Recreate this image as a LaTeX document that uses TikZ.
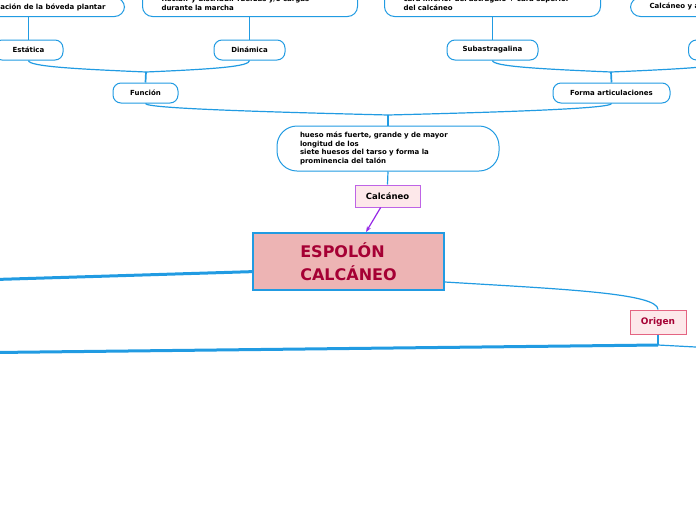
\documentclass[tikz,border=0pt]{standalone}
\usepackage{fontspec}
\setmainfont{DejaVu Sans}
\usetikzlibrary{arrows.meta,positioning}
\definecolor{mmblue}{RGB}{33,155,226}
\definecolor{titlered}{RGB}{165,0,52}
\definecolor{mainfill}{RGB}{237,180,180}
\definecolor{tagline}{RGB}{190,100,230}
\definecolor{tagarrow}{RGB}{150,40,230}
\definecolor{palepink}{RGB}{253,232,234}
\definecolor{roseline}{RGB}{228,100,130}
\tikzset{
  leaf/.style   = {draw=mmblue, line width=1pt, fill=white, rounded corners=10pt,
                   inner xsep=19pt, inner ysep=6pt, align=left,
                   font=\fontsize{7}{9}\selectfont\bfseries},
  pill/.style   = {draw=mmblue, line width=1pt, fill=white, rounded corners=8pt,
                   minimum height=20pt, inner sep=0pt,
                   font=\fontsize{7}{9}\selectfont\bfseries},
  blurb/.style  = {draw=mmblue, line width=1pt, fill=white, rounded corners=20pt,
                   minimum width=222pt, minimum height=45pt, inner xsep=23pt,
                   text width=176pt, align=left,
                   font=\fontsize{7}{8.7}\selectfont\bfseries},
  tagbox/.style = {draw=tagline, line width=1pt, fill=palepink, minimum width=65pt,
                   minimum height=22pt, inner sep=0pt,
                   font=\fontsize{8.5}{10}\selectfont\bfseries},
  topic/.style  = {draw=mmblue, line width=2pt, fill=mainfill, minimum width=191pt,
                   minimum height=57pt, inner sep=0pt, align=left, text=titlered,
                   font=\fontsize{16}{23}\selectfont\bfseries},
  rootbox/.style= {draw=roseline, line width=1pt, fill=palepink, minimum width=56pt,
                   minimum height=24pt, inner sep=0pt, text=titlered,
                   font=\fontsize{9}{11}\selectfont\bfseries},
  link/.style   = {draw=mmblue, line width=1.2pt},
  stem/.style   = {draw=mmblue, line width=1.7pt},
  trunk/.style  = {draw=mmblue, line width=3pt},
  pointer/.style= {draw=tagarrow, line width=1.2pt, -{Stealth[length=2mm]}},
}

\begin{document}
\begin{tikzpicture}[x=1pt,y=-1pt]
  \useasboundingbox (0,0) rectangle (696,520);

  % top row, cut by the page edge
  \node[leaf, anchor=south east] (plantar) at (125,17) {Formación de la bóveda plantar};
  \node[leaf, anchor=south west, text width=177pt] (cargas) at (142,17)
    {Recibir y distribuir fuerzas y/o cargas\\durante la marcha};
  \node[leaf, anchor=south west, text width=178pt] (caras) at (384,17)
    {cara inferior del astrágalo + cara superior\\del calcáneo};
  \node[leaf, anchor=south west] (huesos) at (630,17) {Calcáneo y astrágalo};

  % second row
  \node[pill, minimum width=69pt] (estatica) at (28.5,50) {Estática};
  \node[pill, minimum width=71pt] (dinamica) at (249.5,50) {Dinámica};
  \node[pill, minimum width=91pt] (subastra) at (492.5,50) {Subastragalina};
  \node[pill, minimum width=84pt, anchor=west] (otra) at (688,50) {};

  \node[pill, minimum width=65pt] (funcion) at (145.5,93) {Función};
  \node[pill, minimum width=117pt] (forma) at (611.5,93) {Forma articulaciones};

  \node[blurb] (hueso) at (388,148.5)
    {hueso más fuerte, grande y de mayor\\longitud de los\\siete huesos del tarso y forma la\\prominencia del talón};
  \node[tagbox] (calcaneo) at (387.5,196) {Calcáneo};
  \node[topic] (espolon) at (348.5,261.5) {ESPOLÓN\\CALCÁNEO};
  \node[rootbox] (origen) at (658,322) {Origen};

  \coordinate (jf) at (146,72);
  \coordinate (ja) at (611,72);
  \coordinate (jh) at (388,115);
  \coordinate (jo) at (658,345);
  \coordinate (endA) at (-5,279.5);
  \coordinate (endB) at (-5,352.5);
  \coordinate (endC) at (705,347.5);

  % leaves
  \draw[link] (estatica.north) -- (estatica.north |- plantar.south);
  \draw[link] (dinamica.north) -- (dinamica.north |- cargas.south);
  \draw[link] (subastra.north) -- (subastra.north |- caras.south);
  \draw[link] (otra.north) -- (otra.north |- huesos.south);

  % brackets
  \draw[link] (estatica.south) .. controls +(0,6) and +(-70,-3) .. (jf);
  \draw[link] (dinamica.south) .. controls +(0,6) and +(70,-3) .. (jf);
  \draw[stem] (jf) -- (funcion.north);
  \draw[link] (subastra.south) .. controls +(0,6) and +(-70,-3) .. (ja);
  \draw[link] (otra.south) .. controls +(0,6) and +(70,-3) .. (ja);
  \draw[stem] (ja) -- (forma.north);
  \draw[link] (funcion.south) .. controls +(0,5) and +(-120,-3) .. (jh);
  \draw[link] (forma.south) .. controls +(0,5) and +(120,-3) .. (jh);
  \draw[stem] (jh) -- (hueso.north);
  \draw[link] (hueso.south) -- (calcaneo.north);
  \draw[pointer] (calcaneo) -- (espolon);

  % main branches
  \draw[trunk] (espolon.186) -- (endA);
  \draw[link] (espolon.-12) .. controls (560,289) and (658,293) .. (origen.north);
  \draw[stem] (origen.south) -- (jo);
  \draw[trunk] (jo) -- (endB);
  \draw[link] (jo) -- (endC);
\end{tikzpicture}
\end{document}
